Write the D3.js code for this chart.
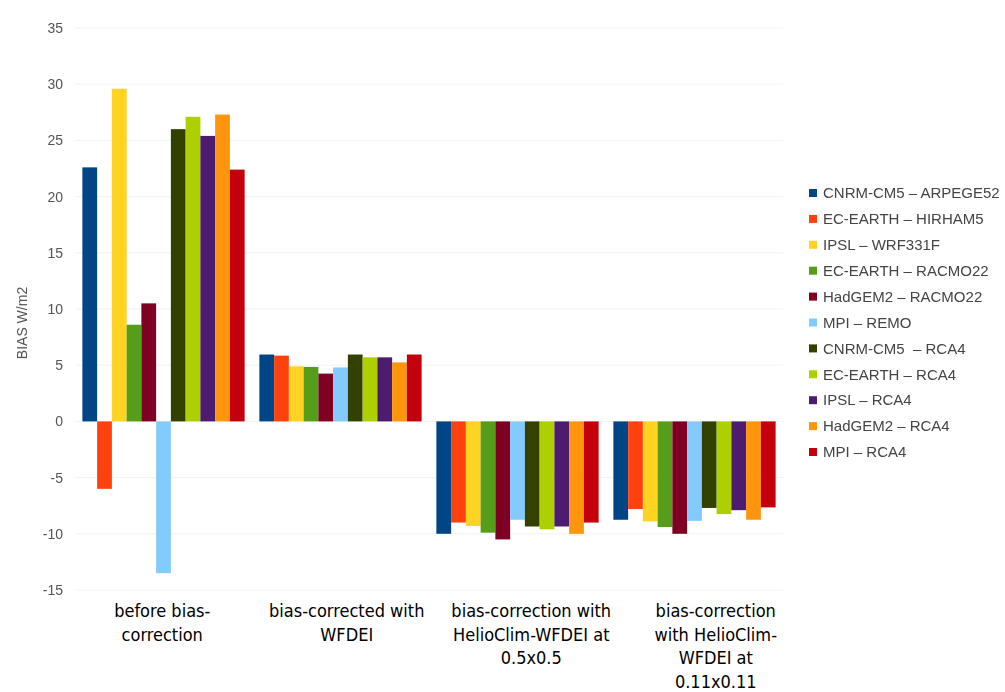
<!DOCTYPE html>
<html>
<head>
<meta charset="utf-8">
<script src="https://cdn.jsdelivr.net/npm/d3@7"></script>
<style>
  html, body { margin: 0; padding: 0; background: #fff; }
  svg { display: block; }
</style>
</head>
<body>
<svg id="chart" width="1005" height="692"></svg>
<script>
// Correction methods shown along the x axis (one line per array entry)
const categories = ["before", "wfdei", "helio05", "helio011"];
const categoryLines = [
  ["before bias-", "correction"],
  ["bias-corrected with", "WFDEI"],
  ["bias-correction with", "HelioClim-WFDEI at", "0.5x0.5"],
  ["bias-correction", "with HelioClim-", "WFDEI at", "0.11x0.11"]
];

// GCM – RCM model chains
const models = [
  "CNRM-CM5 – ARPEGE52", "EC-EARTH – HIRHAM5", "IPSL – WRF331F",
  "EC-EARTH – RACMO22", "HadGEM2 – RACMO22", "MPI – REMO",
  "CNRM-CM5  – RCA4", "EC-EARTH – RCA4", "IPSL – RCA4",
  "HadGEM2 – RCA4", "MPI – RCA4"
];

// Bias (W/m2) per model, one array per correction method
const biasBefore   = [22.6, -6.0, 29.6, 8.6, 10.5, -13.5, 26.0, 27.1, 25.4, 27.3, 22.4];
const biasWfdei    = [5.95, 5.85, 4.9, 4.85, 4.25, 4.8, 5.95, 5.7, 5.7, 5.25, 5.95];
const biasHelio05  = [-10.0, -9.0, -9.3, -9.9, -10.5, -8.75, -9.35, -9.6, -9.35, -10.0, -9.0];
const biasHelio011 = [-8.75, -7.8, -8.9, -9.4, -10.0, -8.85, -7.7, -8.25, -7.9, -8.75, -7.65];

const yTicks = [35, 30, 25, 20, 15, 10, 5, 0, -5, -10, -15];

const palette = ["#004586", "#ff420e", "#ffd320", "#579d1c", "#7e0021", "#83caff",
                 "#314004", "#aecf00", "#4b1f6f", "#ff950e", "#c5000b"];

const table = [biasBefore, biasWfdei, biasHelio05, biasHelio011].map((vals, ci) => ({
  category: categories[ci],
  values: vals.map((v, mi) => ({ model: models[mi], value: v }))
}));

const svg = d3.select("#chart");

// Soft rendering of the plotted figure
const defs = svg.append("defs");
defs.append("filter").attr("id", "soft")
  .attr("x", "-5%").attr("y", "-5%").attr("width", "110%").attr("height", "110%")
  .append("feGaussianBlur").attr("stdDeviation", 0.6);

const plot = { left: 75, right: 783, top: 28, bottom: 590 };

const y = d3.scaleLinear().domain([-15, 35]).range([plot.bottom, plot.top]);
const x0 = d3.scaleBand().domain(categories).range([plot.left, plot.right]).padding(0);
const x1 = d3.scaleBand().domain(models).range([0, x0.bandwidth()])
  .paddingInner(0).paddingOuter(0.5);
const color = d3.scaleOrdinal().domain(models).range(palette);

const fig = svg.append("g").attr("filter", "url(#soft)");

// Faint horizontal grid
fig.append("g").selectAll("line").data(yTicks).join("line")
  .attr("x1", plot.left).attr("x2", plot.right)
  .attr("y1", d => y(d)).attr("y2", d => y(d))
  .attr("stroke", "#f2f2f2").attr("stroke-width", 1);

// Y axis labels (plain hyphen for negatives)
const yAxis = d3.axisLeft(y).tickValues(yTicks).tickSize(0).tickPadding(0)
  .tickFormat(d => String(d));
const yg = fig.append("g").attr("transform", "translate(63,0)").call(yAxis);
yg.select(".domain").remove();
yg.selectAll("text")
  .attr("font-family", "Liberation Sans, Arial, sans-serif")
  .attr("font-size", 14).attr("fill", "#555");

// Axis title
fig.append("text")
  .attr("transform", "translate(27,323) rotate(-90)")
  .attr("text-anchor", "middle")
  .attr("font-family", "Liberation Sans, Arial, sans-serif")
  .attr("font-size", 14).attr("fill", "#555")
  .text("BIAS W/m2");

// Bars
const groups = fig.append("g").selectAll("g").data(table).join("g")
  .attr("transform", d => `translate(${x0(d.category)},0)`);
groups.selectAll("rect").data(d => d.values).join("rect")
  .attr("x", d => x1(d.model))
  .attr("width", x1.bandwidth())
  .attr("y", d => y(Math.max(0, d.value)))
  .attr("height", d => Math.abs(y(d.value) - y(0)))
  .attr("fill", d => color(d.model));

// Legend
const ly = d3.scalePoint().domain(models).range([193, 452]);
const legend = fig.append("g").selectAll("g").data(models).join("g")
  .attr("transform", d => `translate(809,${ly(d)})`);
legend.append("rect").attr("x", 0).attr("y", -4).attr("width", 8).attr("height", 8)
  .attr("fill", d => color(d));
legend.append("text").attr("x", 14).attr("dy", "0.35em")
  .attr("font-family", "Liberation Sans, Arial, sans-serif")
  .attr("font-size", 15).attr("fill", "#444")
  .attr("xml:space", "preserve")
  .text(d => d);

// Category labels below the plot
const xl = d3.scaleBand().domain(categories).range([70, 808]);
const cat = svg.append("g").selectAll("text").data(categories).join("text")
  .attr("x", d => xl(d) + xl.bandwidth() / 2)
  .attr("y", 617)
  .attr("text-anchor", "middle")
  .attr("font-family", "'DejaVu Sans Condensed', 'Noto Sans', sans-serif")
  .attr("font-stretch", "condensed")
  .attr("font-size", 18).attr("fill", "#000");
cat.selectAll("tspan").data((d, i) => categoryLines[i]).join("tspan")
  .attr("x", function () { return this.parentNode.getAttribute("x"); })
  .attr("dy", (d, i) => i === 0 ? 0 : 23.5)
  .text(d => d);
</script>
</body>
</html>
